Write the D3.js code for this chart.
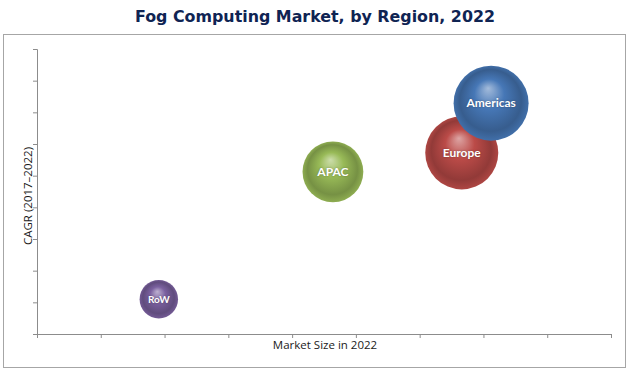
<!DOCTYPE html>
<html>
<head>
<meta charset="utf-8">
<script src="https://cdn.jsdelivr.net/npm/d3@7"></script>
<style>
  body { margin: 0; background: #fff; }
  svg { display: block; }
</style>
</head>
<body>
<div id="chart"></div>
<script>
const width = 630
const height = 375;

// data (axes have no labels, 0..9 units)
const regions = ['RoW', 'APAC', 'Europe', 'Americas'];
const marketSize = [1.91, 4.64, 6.66, 7.12];
const cagr = [1.1, 5.12, 5.72, 7.29];
const bubbleSize = [3.6, 9.0, 13.0, 13.7];
const baseColors = ['#7b61a0', '#98ba57', '#bb4b48', '#4677b6'];
const xTicks = d3.range(0, 10);
const yTicks = d3.range(0, 10);

const margin = {left: 37, right: 19, top: 49, bottom: 41};

const svg = d3.select('#chart')
  .append('svg')
  .attr('width', width)
  .attr('height', height);

// title
svg.append('text')
  .attr('x', 315)
  .attr('y', 22)
  .attr('text-anchor', 'middle')
  .attr('font-family', 'DejaVu Sans, sans-serif')
  .attr('font-weight', 'bold')
  .attr('font-size', 15.5)
  .attr('textLength', 360)
  .attr('lengthAdjust', 'spacingAndGlyphs')
  .attr('fill', '#0f2453')
  .text('Fog Computing Market, by Region, 2022');

// outer frame
svg.append('rect')
  .attr('x', 3.5)
  .attr('y', 34.5)
  .attr('width', 622)
  .attr('height', 333)
  .attr('fill', 'none')
  .attr('stroke', '#a6a6a6');

const x = d3.scaleLinear()
  .domain([0, 9])
  .range([margin.left, width - margin.right]);

const y = d3.scaleLinear()
  .domain([0, 9])
  .range([height - margin.bottom, margin.top]);

const r = d3.scaleSqrt()
  .domain([0, 13.7])
  .range([0, 37.5]);

// axes
const xAxis = svg.append('g')
  .attr('transform', `translate(0,${y(0)})`)
  .call(d3.axisBottom(x).tickValues(xTicks).tickSize(4).tickFormat(''));

const yAxis = svg.append('g')
  .attr('transform', `translate(${x(0)},0)`)
  .call(d3.axisLeft(y).tickValues(yTicks).tickSize(4).tickFormat(''));

[xAxis, yAxis].forEach(g => {
  g.selectAll('path, line').attr('stroke', '#8c8c8c');
});

// axis titles
svg.append('text')
  .attr('x', 325)
  .attr('y', 349)
  .attr('text-anchor', 'middle')
  .attr('font-family', 'Open Sans, sans-serif')
  .attr('font-size', 11.5)
  .attr('fill', '#1a1a1a')
  .text('Market Size in 2022');

svg.append('text')
  .attr('transform', 'translate(32,196) rotate(-90)')
  .attr('text-anchor', 'middle')
  .attr('font-family', 'Open Sans, sans-serif')
  .attr('font-size', 11.5)
  .attr('fill', '#1a1a1a')
  .text('CAGR (2017–2022)');

// sphere gradients
const defs = svg.append('defs');
baseColors.forEach((c, i) => {
  const base = d3.color(c);
  const g = defs.append('radialGradient')
    .attr('id', 'grad' + i)
    .attr('cx', '50%').attr('cy', '50%').attr('r', '50%')
    .attr('fx', '46%').attr('fy', '30%');
  g.append('stop').attr('offset', '0%').attr('stop-color', d3.interpolateRgb(c, '#fff')(0.5));
  g.append('stop').attr('offset', '40%').attr('stop-color', c);
  g.append('stop').attr('offset', '82%').attr('stop-color', base.darker(0.7));
  g.append('stop').attr('offset', '100%').attr('stop-color', base.darker(0.2));
});

const data = regions.map((d, i) => ({
  name: d, x: marketSize[i], y: cagr[i], size: bubbleSize[i], i
}));

const bubbles = svg.selectAll('g.bubble')
  .data(data)
  .join('g')
    .attr('class', 'bubble')
    .attr('transform', d => `translate(${x(d.x)},${y(d.y)})`);

bubbles.append('circle')
  .attr('r', d => r(d.size))
  .attr('fill', d => `url(#grad${d.i})`);

bubbles.append('text')
  .attr('text-anchor', 'middle')
  .attr('dy', '0.35em')
  .attr('font-family', 'Lato, sans-serif')
  .attr('font-weight', 'bold')
  .attr('font-size', d => d.name === 'RoW' ? 10 : 12)
  .attr('fill', '#fff')
  .style('text-shadow', '0 0 2px rgba(0,0,0,0.35)')
  .text(d => d.name);
</script>
</body>
</html>
